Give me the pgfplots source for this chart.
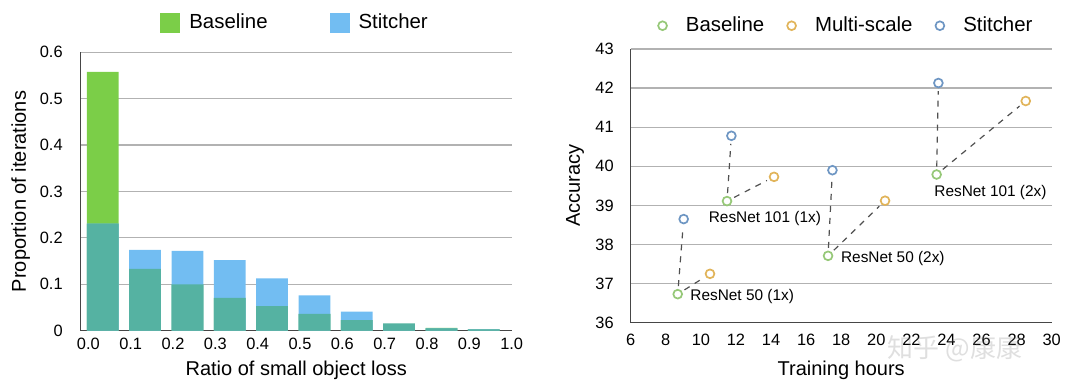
\documentclass[border=0pt]{standalone}
\usepackage{fontspec}
\setmainfont{Liberation Sans}
\newfontfamily\cjk{Noto Sans CJK SC}
\usepackage{pgfplots}
\pgfplotsset{compat=1.18}
\definecolor{bgreen}{RGB}{123,206,72}
\definecolor{bblue}{RGB}{114,189,242}
\definecolor{bteal}{RGB}{85,178,162}
\definecolor{mgreen}{RGB}{150,200,120}
\definecolor{morange}{RGB}{225,180,90}
\definecolor{mblue}{RGB}{110,150,195}
\definecolor{gridc}{RGB}{178,178,178}
\definecolor{axc}{RGB}{70,70,70}
\definecolor{dashc}{RGB}{80,80,80}
\pgfplotsset{common/.style={
  scale only axis, axis x line*=bottom, axis y line*=left,
  axis line style={axc, line width=0.7pt},
  major tick length=0pt, ymajorgrids,
  grid style={gridc, line width=0.6pt},
  tick label style={font=\fontsize{8.2}{9}\selectfont},
  /pgf/number format/assume math mode=true,
  clip=false,
  every axis x label/.style={at={(axis description cs:0.5,0)}, anchor=center, font=\fontsize{10}{12}\selectfont},
  every axis y label/.style={at={(axis description cs:0,0.5)}, anchor=center, rotate=90, font=\fontsize{10}{12}\selectfont},
  legend style={draw=none, fill=none, font=\fontsize{10.2}{12}\selectfont},
  legend cell align=left,
}}
\begin{document}
\begin{tikzpicture}
\path[use as bounding box] (0,0) rectangle (540pt,194.5pt);
% ---------------- left chart ----------------
\begin{axis}[common,
  at={(40.35pt,29.15pt)}, anchor=south west,
  width=215.5pt, height=139.2pt,
  xmin=-0.018, xmax=1.0, ymin=0, ymax=0.6,
  xtick={0,0.1,0.2,0.3,0.4,0.5,0.6,0.7,0.8,0.9,1.0},
  xticklabels={0.0,0.1,0.2,0.3,0.4,0.5,0.6,0.7,0.8,0.9,1.0},
  ytick={0,0.1,0.2,0.3,0.4,0.5,0.6},
  yticklabels={0,0.1,0.2,0.3,0.4,0.5,0.6},
  yticklabel style={xshift=-5.5pt},
  xlabel={Ratio of small object loss},
  ylabel={Proportion of iterations},
  xlabel style={yshift=-20pt},
  ylabel style={yshift=30pt},
  legend columns=2,
  legend style={at={(0.170,1.105)}, anchor=west,
    /tikz/every odd column/.append style={column sep=2.5pt},
    /tikz/every even column/.append style={column sep=29pt}},
  legend image code/.code={\fill[#1] (0pt,-5pt) rectangle (10pt,5pt);},
]
\addplot[ybar, bar width=0.075, bar shift=0pt, fill=bgreen, draw=none]
  coordinates {(0.034,0.558) (0.134,0.133) (0.234,0.100) (0.334,0.071) (0.434,0.053)
               (0.534,0.036) (0.634,0.023) (0.734,0.015) (0.834,0.006) (0.934,0.003)};
\addlegendentry{Baseline}
\addplot[ybar, bar width=0.075, bar shift=0pt, fill=bblue, draw=none]
  coordinates {(0.034,0.231) (0.134,0.174) (0.234,0.172) (0.334,0.152) (0.434,0.113)
               (0.534,0.076) (0.634,0.041) (0.734,0.015) (0.834,0.005) (0.934,0.003)};
\addlegendentry{Stitcher}
\addplot[ybar, bar width=0.075, bar shift=0pt, fill=bteal, draw=none, forget plot]
  coordinates {(0.034,0.231) (0.134,0.133) (0.234,0.100) (0.334,0.071) (0.434,0.053)
               (0.534,0.036) (0.634,0.023) (0.734,0.015) (0.834,0.005) (0.934,0.003)};
\end{axis}
% ---------------- right chart ----------------
\begin{axis}[common,
  at={(315.35pt,33.15pt)}, anchor=south west,
  width=210.5pt, height=136.85pt,
  xmin=6, xmax=30, ymin=36, ymax=43,
  xtick={6,8,10,12,14,16,18,20,22,24,26,28,30},
  ytick={36,37,38,39,40,41,42,43},
  yticklabel style={xshift=-5pt},
  xticklabel style={yshift=-2pt},
  xlabel={Training hours},
  ylabel={Accuracy},
  xlabel style={yshift=-23.7pt},
  ylabel style={yshift=27.8pt},
  legend columns=3,
  legend style={at={(0.050,1.085)}, anchor=west,
    /tikz/every odd column/.append style={column sep=7.5pt},
    /tikz/every even column/.append style={column sep=9.5pt}},
  legend image code/.code={\draw[#1] plot coordinates {(2.5pt,0pt)};},
]
\addplot[dashc, dashed, line width=0.6pt, shorten <=4pt, shorten >=4pt, forget plot] coordinates {(8.68,36.73) (9.02,38.65)};
\addplot[dashc, dashed, line width=0.6pt, shorten <=4pt, shorten >=4pt, forget plot] coordinates {(8.68,36.73) (10.52,37.25)};
\addplot[dashc, dashed, line width=0.6pt, shorten <=4pt, shorten >=4pt, forget plot] coordinates {(11.49,39.11) (11.74,40.78)};
\addplot[dashc, dashed, line width=0.6pt, shorten <=4pt, shorten >=4pt, forget plot] coordinates {(11.49,39.11) (14.17,39.73)};
\addplot[dashc, dashed, line width=0.6pt, shorten <=4pt, shorten >=4pt, forget plot] coordinates {(17.25,37.71) (17.50,39.90)};
\addplot[dashc, dashed, line width=0.6pt, shorten <=4pt, shorten >=4pt, forget plot] coordinates {(17.25,37.71) (20.50,39.12)};
\addplot[dashc, dashed, line width=0.6pt, shorten <=4pt, shorten >=4pt, forget plot] coordinates {(23.44,39.79) (23.54,42.13)};
\addplot[dashc, dashed, line width=0.6pt, shorten <=4pt, shorten >=4pt, forget plot] coordinates {(23.44,39.79) (28.52,41.67)};
\addplot[only marks, mark=o, mark size=2.2pt, mgreen, line width=0.85pt]
  coordinates {(8.68,36.73) (11.49,39.11) (17.25,37.71) (23.44,39.79)};
\addlegendentry{Baseline}
\addplot[only marks, mark=o, mark size=2.2pt, morange, line width=0.85pt]
  coordinates {(10.52,37.25) (14.17,39.73) (20.50,39.12) (28.52,41.67)};
\addlegendentry{Multi-scale}
\addplot[only marks, mark=o, mark size=2.2pt, mblue, line width=0.85pt]
  coordinates {(9.02,38.65) (11.74,40.78) (17.50,39.90) (23.54,42.13)};
\addlegendentry{Stitcher}
\node[anchor=west, inner sep=0pt, font=\fontsize{7.7}{9}\selectfont] at (axis cs:9.38,36.66) {ResNet 50 (1x)};
\node[anchor=west, inner sep=0pt, font=\fontsize{7.7}{9}\selectfont] at (axis cs:10.43,38.67) {ResNet 101 (1x)};
\node[anchor=west, inner sep=0pt, font=\fontsize{7.7}{9}\selectfont] at (axis cs:17.97,37.65) {ResNet 50 (2x)};
\node[anchor=west, inner sep=0pt, font=\fontsize{7.7}{9}\selectfont] at (axis cs:23.29,39.33) {ResNet 101 (2x)};
\end{axis}
\node[font=\cjk\fontsize{13}{14}\selectfont, text=gray, opacity=0.25] at (477.5pt,20pt) {知乎 @康康};
\end{tikzpicture}
\end{document}
